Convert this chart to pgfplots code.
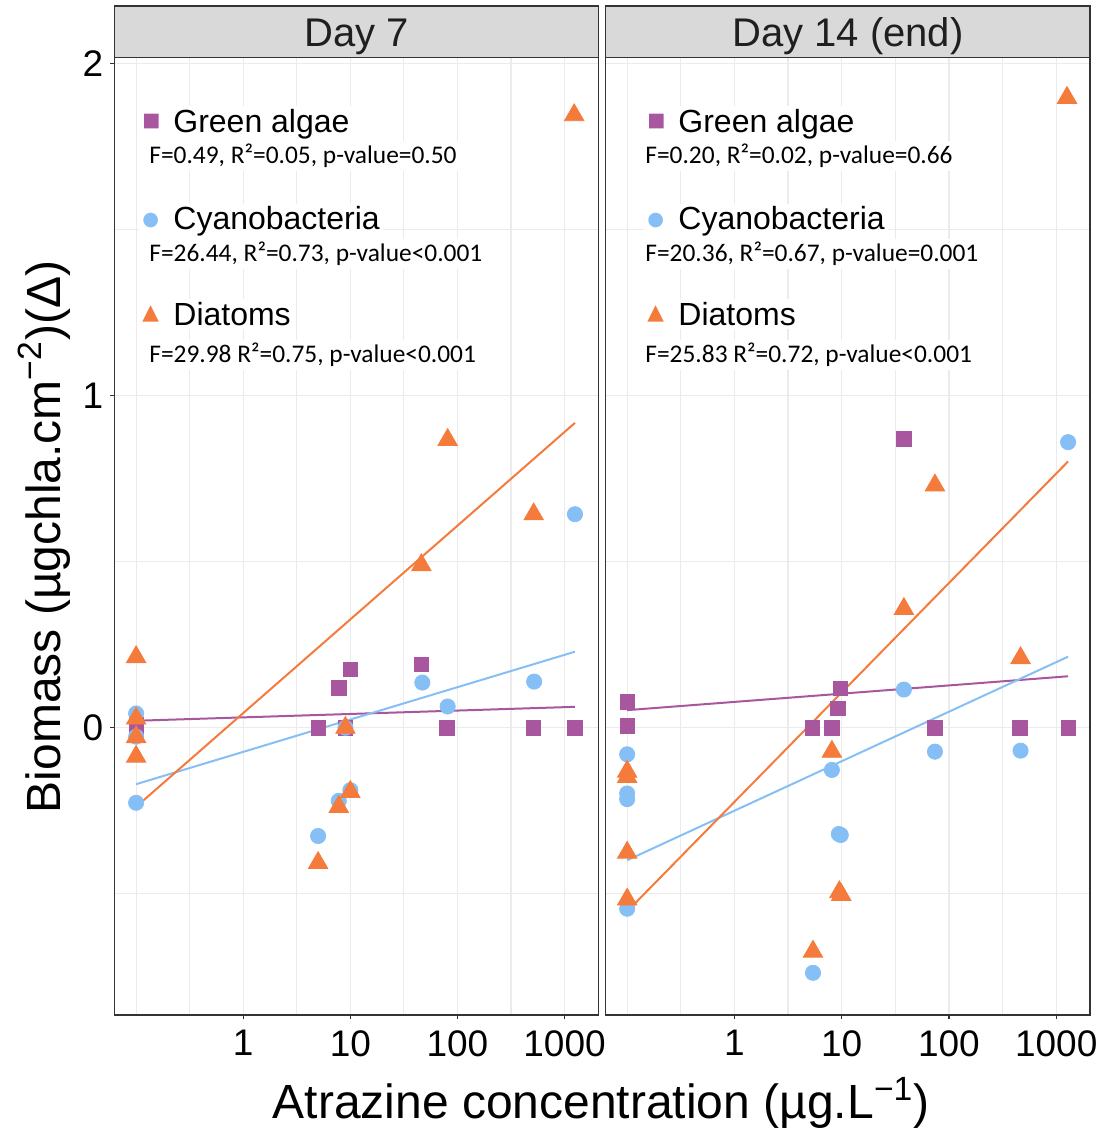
\documentclass[border=0pt]{standalone}
\usepackage{fontspec}
\setmainfont{Liberation Sans}
\newfontfamily\calibri{Carlito}
\newfontfamily\symb{DejaVu Sans}
\usepackage{pgfplots}
\pgfplotsset{compat=1.18}

\definecolor{algae}{HTML}{A8579F}
\definecolor{cyano}{HTML}{86BFF5}
\definecolor{diatom}{HTML}{F47B3B}
\definecolor{stripc}{HTML}{D9D9D9}
\definecolor{frame}{HTML}{333333}
\definecolor{gridc}{HTML}{EBEBEB}

% legend key glyph: colour, glyph, size, raise, label
\newcommand{\keylabel}[5]{\makebox[15.5pt][l]{\raisebox{#4}{\symb\fontsize{#3}{#3}\selectfont\color{#1}#2}}#5}

\begin{document}
\begin{tikzpicture}
\path[use as bounding box] (0,0) rectangle (552pt,566.5pt);

% Day 7
\begin{axis}[name=dseven, at={(57.35pt,59pt)}, anchor=south west, scale only axis,
    width=241.8pt, height=478.85pt,
    xmode=log, xmin=0.0631, xmax=2065, ymin=-0.865, ymax=2.019,
    xtick={1,10,100,1000}, xticklabels={1,10,100,1000},
    ytick={0,1,2}, yticklabels={0,1,2},
    minor xtick={0.1,0.3162,3.162,31.62,316.2},
    minor ytick={-0.5,0.5,1.5},
    grid=both,
    major grid style={draw=gridc, line width=0.6pt},
    minor grid style={draw=gridc, line width=0.6pt},
    axis line style={draw=frame, line width=0.7pt},
    tick style={draw=frame, line width=0.6pt},
    major tick length=2.2pt, minor tick length=0pt, tick align=outside,
    xtick pos=lower, ytick pos=left,
    tick label style={font=\fontsize{18.5}{20}\selectfont},
    xticklabel style={yshift=-2pt}]
\addplot[only marks, mark=square*, mark size=3.6pt, color=algae] coordinates {
  (0.1,0.01) (0.1,-0.01) (5,0) (7.8,0.12) (9,0) (10,0.176) (46,0.191) (80,0) (510,0) (1250,0)
};
\addplot[only marks, mark=*, mark size=3.8pt, color=cyano] coordinates {
  (0.1,0.043) (0.1,-0.027) (0.1,-0.226) (5,-0.326) (7.8,-0.22) (10,-0.188) (9,0.0)
  (47,0.136) (81,0.064) (520,0.139) (1250,0.643)
};
\addplot[only marks, mark=triangle*, mark size=5.6pt, color=diatom] coordinates {
  (0.1,0.213) (0.1,0.028) (0.1,-0.028) (0.1,-0.087) (5,-0.407) (7.8,-0.238) (10,-0.193)
  (9,0.0) (46,0.49) (81,0.867) (515,0.643) (1230,1.845)
};
\addplot[no marks, line width=1pt, algae] coordinates {(0.1,0.021) (1250,0.063)};
\addplot[no marks, line width=1pt, cyano] coordinates {(0.1,-0.17) (1250,0.229)};
\addplot[no marks, line width=1pt, diatom] coordinates {(0.1,-0.238) (1250,0.918)};
\end{axis}

% Day 14
\begin{axis}[name=dfourteen, at={(302.85pt,59pt)}, anchor=south west, scale only axis,
    width=242.15pt, height=478.85pt,
    xmode=log, xmin=0.0631, xmax=2065, ymin=-0.865, ymax=2.019,
    xtick={1,10,100,1000}, xticklabels={1,10,100,1000},
    ytick={0,1,2}, yticklabels={},
    minor xtick={0.1,0.3162,3.162,31.62,316.2},
    minor ytick={-0.5,0.5,1.5},
    grid=both,
    major grid style={draw=gridc, line width=0.6pt},
    minor grid style={draw=gridc, line width=0.6pt},
    axis line style={draw=frame, line width=0.7pt},
    xtick style={draw=frame, line width=0.6pt}, ytick style={draw=none},
    major tick length=2.2pt, minor tick length=0pt, tick align=outside,
    xtick pos=lower, ytick pos=left,
    tick label style={font=\fontsize{18.5}{20}\selectfont},
    xticklabel style={yshift=-2pt}]
\addplot[only marks, mark=square*, mark size=3.6pt, color=algae] coordinates {
  (0.1,0.078) (0.1,0.005) (5.3,0) (8.1,0) (9.7,0.118) (9.2,0.059) (38,0.87) (74,0) (460,0) (1290,0)
};
\addplot[only marks, mark=*, mark size=3.8pt, color=cyano] coordinates {
  (0.1,-0.08) (0.1,-0.198) (0.1,-0.215) (0.1,-0.545) (5.4,-0.738) (8.1,-0.127) (9.4,-0.32)
  (9.8,-0.323) (38,0.115) (74,-0.072) (465,-0.069) (1290,0.86)
};
\addplot[only marks, mark=triangle*, mark size=5.6pt, color=diatom] coordinates {
  (0.1,-0.132) (0.1,-0.148) (0.1,-0.376) (0.1,-0.517) (5.4,-0.674) (8.1,-0.072) (9.5,-0.495)
  (9.9,-0.503) (38,0.358) (74,0.73) (465,0.21) (1260,1.897)
};
\addplot[no marks, line width=1pt, algae] coordinates {(0.1,0.053) (1290,0.155)};
\addplot[no marks, line width=1pt, cyano] coordinates {(0.1,-0.399) (1290,0.214)};
\addplot[no marks, line width=1pt, diatom] coordinates {(0.1,-0.553) (1290,0.802)};
\end{axis}

% facet strips
\draw[frame, fill=stripc, line width=0.7pt] (dseven.north west) rectangle ([yshift=25.65pt]dseven.north east);
\node[anchor=base, font=\fontsize{20}{24}\selectfont, text=black!88] at ([yshift=5.2pt]dseven.north) {Day 7};
\draw[frame, fill=stripc, line width=0.7pt] (dfourteen.north west) rectangle ([yshift=25.65pt]dfourteen.north east);
\node[anchor=base, font=\fontsize{20}{24}\selectfont, text=black!88] at ([yshift=5.2pt]dfourteen.north) {Day 14 (end)};

% axis titles
\node[rotate=90, anchor=base, font=\fontsize{24}{28}\selectfont] at (30pt,298pt)
  {Biomass (µgchla.cm\textsuperscript{−2})(Δ)};
\node[anchor=base, font=\fontsize{24}{28}\selectfont] at (300.5pt,7.4pt)
  {Atrazine concentration (µg.L\textsuperscript{−1})};

% in-panel annotations (image pixel coordinates)
\begin{scope}[x=0.5pt, y=-0.5pt, shift={(0pt,566.5pt)}]
  \tikzset{lab/.style={anchor=base west, fill=white, inner sep=1.5pt, font=\fontsize{16}{18}\selectfont},
    st/.style={anchor=base west, fill=white, inner sep=1.5pt, font=\calibri\fontsize{12.7}{14}\selectfont}}
  \node[lab] at (139,132.7) {\keylabel{algae}{■}{9.6pt}{3.3pt}{Green algae}};
  \node[st] at (146,164) {F=0.49, R²=0.05, p-value=0.50};
  \node[lab] at (139,230) {\keylabel{cyano}{●}{9.6pt}{2.4pt}{Cyanobacteria}};
  \node[st] at (146,261.7) {F=26.44, R²=0.73, p-value<0.001};
  \node[lab] at (139,325.7) {\keylabel{diatom}{▲}{10.8pt}{3.2pt}{Diatoms}};
  \node[st] at (146,362.7) {F=29.98 R²=0.75, p-value<0.001};

  \node[lab] at (644,132.7) {\keylabel{algae}{■}{9.6pt}{3.3pt}{Green algae}};
  \node[st] at (642,164) {F=0.20, R²=0.02, p-value=0.66};
  \node[lab] at (644,230) {\keylabel{cyano}{●}{9.6pt}{2.4pt}{Cyanobacteria}};
  \node[st] at (642,261.7) {F=20.36, R²=0.67, p-value=0.001};
  \node[lab] at (644,325.7) {\keylabel{diatom}{▲}{10.8pt}{3.2pt}{Diatoms}};
  \node[st] at (642,362.7) {F=25.83 R²=0.72, p-value<0.001};
\end{scope}
\end{tikzpicture}
\end{document}
